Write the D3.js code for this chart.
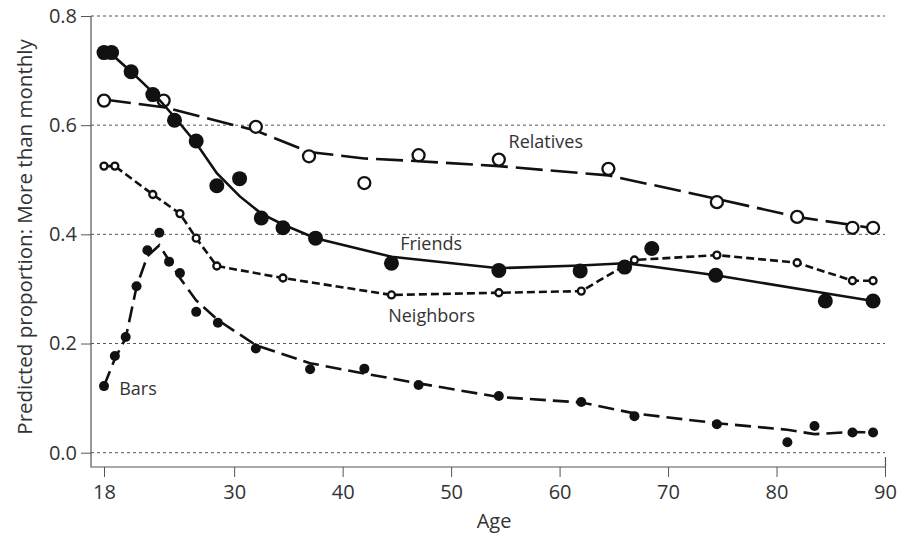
<!DOCTYPE html>
<html>
<head>
<meta charset="utf-8">
<script src="https://cdn.jsdelivr.net/npm/d3@7"></script>
<style>
  body { margin: 0; background: #fff; }
  text { font-family: "Open Sans", sans-serif; fill: #333; }
</style>
</head>
<body>
<div id="chart"></div>
<script>
var w = 900;
var h = 535;

// Friends
var friendsAge = [18, 18.7, 20.5, 22.5, 24.5, 26.5, 28.4, 30.5, 32.5, 34.5, 37.5, 44.5, 54.4, 61.9, 66, 68.5, 74.4, 84.5, 88.9];
var friendsObs = [0.733, 0.733, 0.698, 0.656, 0.609, 0.571, 0.489, 0.502, 0.43, 0.412, 0.393, 0.347, 0.334, 0.333, 0.34, 0.374, 0.325, 0.278, 0.278];
var friendsFit = [0.733, 0.73, 0.698, 0.66, 0.615, 0.567, 0.512, 0.47, 0.438, 0.418, 0.393, 0.359, 0.338, 0.343, 0.347, 0.341, 0.325, 0.292, 0.278];

// Relatives
var relativesAge = [18, 23.5, 32, 36.9, 42, 47, 54.4, 64.5, 74.5, 81.9, 87, 88.9];
var relativesObs = [0.645, 0.645, 0.597, 0.543, 0.494, 0.545, 0.537, 0.52, 0.459, 0.432, 0.412, 0.412];
var relativesFit = [0.647, 0.633, 0.59, 0.551, 0.539, 0.534, 0.525, 0.508, 0.465, 0.432, 0.417, 0.411];

// Neighbors
var neighborsAge = [18, 19, 22.5, 25, 26.5, 28.4, 34.5, 44.5, 54.4, 62, 66.9, 74.5, 81.9, 87, 88.9];
var neighborsObs = [0.525, 0.525, 0.473, 0.438, 0.393, 0.342, 0.32, 0.289, 0.293, 0.296, 0.353, 0.362, 0.348, 0.315, 0.315];
var neighborsFit = [0.525, 0.525, 0.473, 0.438, 0.393, 0.342, 0.32, 0.289, 0.293, 0.296, 0.353, 0.362, 0.348, 0.315, 0.315];

// Bars
var barsAge = [18, 19, 20, 21, 22, 23.1, 24, 25, 26.5, 28.5, 32, 37, 42, 47, 54.4, 62, 66.9, 74.5, 81, 83.5, 87, 88.9];
var barsObs = [0.122, 0.177, 0.212, 0.305, 0.371, 0.403, 0.35, 0.329, 0.258, 0.238, 0.191, 0.153, 0.154, 0.124, 0.104, 0.093, 0.067, 0.052, 0.019, 0.049, 0.037, 0.037];
var barsFit = [0.122, 0.172, 0.21, 0.304, 0.36, 0.38, 0.352, 0.32, 0.279, 0.243, 0.197, 0.164, 0.145, 0.127, 0.102, 0.092, 0.072, 0.054, 0.042, 0.034, 0.038, 0.037];

var xTicks = [18, 30, 40, 50, 60, 70, 80, 90];
var yTicks = [0.0, 0.2, 0.4, 0.6, 0.8];

var series = [
    {name: 'Relatives', age: relativesAge, obs: relativesObs, fit: relativesFit,
     dash: '27,8', r: 6, fill: '#fff', sw: 2.6, lab: [55.3, 0.558]},
    {name: 'Neighbors', age: neighborsAge, obs: neighborsObs, fit: neighborsFit,
     dash: '8,4', r: 3.5, fill: '#fff', sw: 2.6, lab: [44.2, 0.239]},
    {name: 'Bars', age: barsAge, obs: barsObs, fit: barsFit,
     dash: '16,7', r: 5, fill: '#111', sw: 2.6, lab: [19.4, 0.105]},
    {name: 'Friends', age: friendsAge, obs: friendsObs, fit: friendsFit,
     dash: null, r: 7.5, fill: '#111', sw: 2.6, lab: [45.3, 0.371]}
];

var x = d3.scaleLinear().domain([18, 90]).range([104, 885]);
var y = d3.scaleLinear().domain([0, 0.8]).range([452.7, 16]);

var svg = d3.select('#chart')
    .append('svg')
    .attr('width', w)
    .attr('height', h);

// grid
svg.append('g')
    .selectAll('line')
    .data(yTicks)
    .enter()
    .append('line')
    .attr('x1', 91)
    .attr('x2', 885)
    .attr('y1', function(d) { return y(d); })
    .attr('y2', function(d) { return y(d); })
    .attr('stroke', '#555')
    .attr('stroke-width', 1)
    .attr('stroke-dasharray', '3,3');

// axes
var yAxis = svg.append('g')
    .attr('transform', 'translate(91,0)')
    .call(d3.axisLeft(y).tickValues(yTicks).tickFormat(d3.format('.1f')).tickSize(10).tickPadding(4));
var xAxis = svg.append('g')
    .attr('transform', 'translate(0,467)')
    .call(d3.axisBottom(x).tickValues(xTicks).tickSize(10).tickPadding(8));

[yAxis, xAxis].forEach(function(a) {
    a.select('.domain').remove();
    a.selectAll('line').attr('stroke', '#555');
    a.selectAll('text').attr('font-size', 20).attr('fill', '#333')
        .attr('font-family', '"Open Sans", sans-serif');
});

svg.append('path')
    .attr('d', 'M91,16V467H885.5V457')
    .attr('fill', 'none')
    .attr('stroke', '#555')
    .attr('stroke-width', 1.2);

// lines and points
var line = d3.line()
    .x(function(d) { return x(d[0]); })
    .y(function(d) { return y(d[1]); });

series.forEach(function(s) {
    var g = svg.append('g');
    g.append('path')
        .attr('d', line(s.age.map(function(a, i) { return [a, s.fit[i]]; })))
        .attr('fill', 'none')
        .attr('stroke', '#111')
        .attr('stroke-width', s.sw)
        .attr('stroke-dasharray', s.dash);
    g.selectAll('circle')
        .data(s.age.map(function(a, i) { return [a, s.obs[i]]; }))
        .enter()
        .append('circle')
        .attr('cx', function(d) { return x(d[0]); })
        .attr('cy', function(d) { return y(d[1]); })
        .attr('r', s.r)
        .attr('fill', s.fill)
        .attr('stroke', '#111')
        .attr('stroke-width', s.fill == '#fff' ? 2.3 : 0);
    svg.append('text')
        .attr('x', x(s.lab[0]))
        .attr('y', y(s.lab[1]))
        .attr('font-size', 18)
        .text(s.name);
});

// titles
svg.append('text')
    .attr('x', 494)
    .attr('y', 528)
    .attr('text-anchor', 'middle')
    .attr('font-size', 20)
    .text('Age');

svg.append('text')
    .attr('transform', 'translate(32,237) rotate(-90)')
    .attr('text-anchor', 'middle')
    .attr('font-size', 20.5)
    .text('Predicted proportion: More than monthly');
</script>
</body>
</html>
